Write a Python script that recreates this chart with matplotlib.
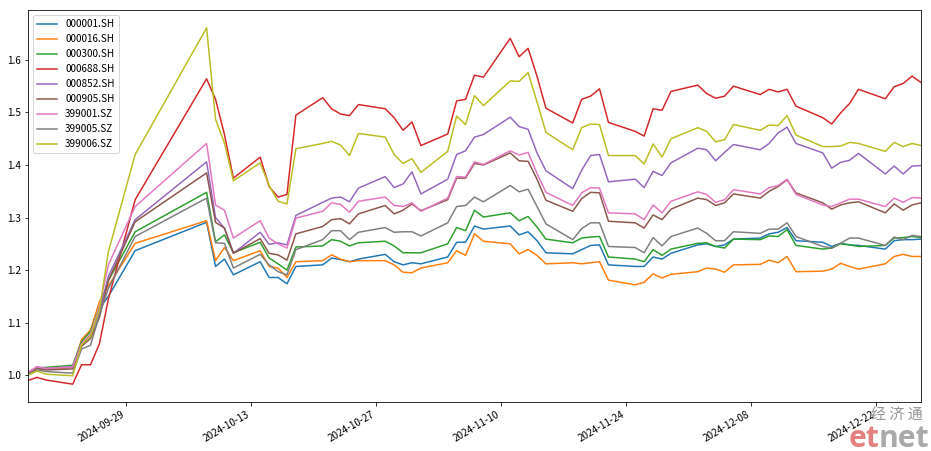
import numpy as np
import pandas as pd
import matplotlib
matplotlib.use('Agg')
import matplotlib.pyplot as plt
import matplotlib.dates as mdates

plt.rcParams['font.family'] = ['Noto Sans CJK SC', 'DejaVu Sans']
plt.rcParams['font.size'] = 10

dates = [
    '2024-09-18', '2024-09-19', '2024-09-20', '2024-09-23', '2024-09-24', '2024-09-25', '2024-09-26',
    '2024-09-27', '2024-09-30', '2024-10-08', '2024-10-09', '2024-10-10', '2024-10-11', '2024-10-14',
    '2024-10-15', '2024-10-16', '2024-10-17', '2024-10-18', '2024-10-21', '2024-10-22', '2024-10-23',
    '2024-10-24', '2024-10-25', '2024-10-28', '2024-10-29', '2024-10-30', '2024-10-31', '2024-11-01',
    '2024-11-04', '2024-11-05', '2024-11-06', '2024-11-07', '2024-11-08', '2024-11-11', '2024-11-12',
    '2024-11-13', '2024-11-14', '2024-11-15', '2024-11-18', '2024-11-19', '2024-11-20', '2024-11-21',
    '2024-11-22', '2024-11-25', '2024-11-26', '2024-11-27', '2024-11-28', '2024-11-29', '2024-12-02',
    '2024-12-03', '2024-12-04', '2024-12-05', '2024-12-06', '2024-12-09', '2024-12-10', '2024-12-11',
    '2024-12-12', '2024-12-13', '2024-12-16', '2024-12-17', '2024-12-18', '2024-12-19', '2024-12-20',
    '2024-12-23', '2024-12-24', '2024-12-25', '2024-12-26', '2024-12-27',
]

tick_dates = ['2024-09-29', '2024-10-13', '2024-10-27', '2024-11-10', '2024-11-24', '2024-12-08', '2024-12-22']

codes = ['000001.SH', '000016.SH', '000300.SH', '000688.SH', '000852.SH',
         '000905.SH', '399001.SZ', '399005.SZ', '399006.SZ']

sh000001 = [1.005, 1.013, 1.012, 1.015, 1.058, 1.075, 1.127, 1.150, 1.237, 1.291, 1.207, 1.221, 1.191, 1.216,
            1.186, 1.186, 1.174, 1.207, 1.210, 1.223, 1.220, 1.216, 1.221, 1.230, 1.216, 1.210, 1.214, 1.212,
            1.225, 1.253, 1.253, 1.284, 1.278, 1.284, 1.267, 1.273, 1.256, 1.233, 1.231, 1.239, 1.247, 1.248,
            1.210, 1.207, 1.207, 1.225, 1.221, 1.232, 1.248, 1.250, 1.245, 1.248, 1.259, 1.261, 1.269, 1.272,
            1.281, 1.256, 1.253, 1.245, 1.251, 1.248, 1.247, 1.240, 1.256, 1.258, 1.258, 1.259]
sh000016 = [1.005, 1.015, 1.012, 1.015, 1.068, 1.086, 1.140, 1.170, 1.251, 1.294, 1.218, 1.243, 1.218, 1.237,
            1.207, 1.204, 1.186, 1.216, 1.218, 1.229, 1.221, 1.216, 1.218, 1.218, 1.210, 1.196, 1.195, 1.204,
            1.214, 1.237, 1.228, 1.269, 1.255, 1.250, 1.231, 1.239, 1.228, 1.212, 1.214, 1.212, 1.214, 1.216,
            1.181, 1.172, 1.177, 1.193, 1.185, 1.192, 1.197, 1.204, 1.202, 1.196, 1.210, 1.211, 1.219, 1.214,
            1.226, 1.197, 1.198, 1.202, 1.213, 1.207, 1.202, 1.212, 1.226, 1.230, 1.226, 1.226]
sh000300 = [1.005, 1.014, 1.015, 1.019, 1.064, 1.083, 1.130, 1.180, 1.273, 1.348, 1.254, 1.267, 1.233, 1.253,
            1.223, 1.212, 1.200, 1.244, 1.246, 1.258, 1.255, 1.246, 1.252, 1.255, 1.246, 1.233, 1.233, 1.233,
            1.250, 1.281, 1.275, 1.314, 1.301, 1.309, 1.294, 1.302, 1.282, 1.259, 1.252, 1.261, 1.263, 1.264,
            1.225, 1.221, 1.216, 1.239, 1.228, 1.240, 1.251, 1.252, 1.245, 1.242, 1.259, 1.258, 1.265, 1.264,
            1.277, 1.247, 1.240, 1.242, 1.250, 1.248, 1.245, 1.247, 1.261, 1.262, 1.264, 1.262]
sh000688 = [0.990, 0.996, 0.991, 0.983, 1.020, 1.020, 1.060, 1.145, 1.334, 1.564, 1.525, 1.458, 1.375, 1.415,
            1.359, 1.339, 1.344, 1.495, 1.528, 1.507, 1.497, 1.494, 1.515, 1.507, 1.490, 1.466, 1.482, 1.437,
            1.459, 1.522, 1.525, 1.571, 1.567, 1.641, 1.606, 1.622, 1.569, 1.508, 1.480, 1.525, 1.531, 1.545,
            1.481, 1.464, 1.455, 1.507, 1.504, 1.540, 1.552, 1.536, 1.527, 1.531, 1.550, 1.534, 1.544, 1.539,
            1.544, 1.512, 1.490, 1.478, 1.499, 1.517, 1.544, 1.526, 1.549, 1.555, 1.569, 1.557]
sh000852 = [1.005, 1.016, 1.013, 1.016, 1.060, 1.075, 1.120, 1.188, 1.296, 1.406, 1.300, 1.280, 1.232, 1.272,
            1.249, 1.252, 1.248, 1.304, 1.329, 1.337, 1.339, 1.330, 1.356, 1.378, 1.357, 1.364, 1.387, 1.345,
            1.373, 1.420, 1.427, 1.453, 1.458, 1.491, 1.473, 1.468, 1.423, 1.389, 1.355, 1.390, 1.418, 1.420,
            1.368, 1.373, 1.357, 1.388, 1.380, 1.404, 1.432, 1.429, 1.408, 1.424, 1.439, 1.429, 1.441, 1.461,
            1.472, 1.441, 1.423, 1.394, 1.405, 1.409, 1.422, 1.383, 1.398, 1.383, 1.398, 1.399]
sh000905 = [1.003, 1.013, 1.010, 1.012, 1.055, 1.070, 1.110, 1.180, 1.292, 1.385, 1.291, 1.280, 1.232, 1.260,
            1.232, 1.229, 1.219, 1.269, 1.283, 1.296, 1.298, 1.288, 1.307, 1.323, 1.307, 1.314, 1.326, 1.313,
            1.334, 1.375, 1.375, 1.403, 1.400, 1.423, 1.408, 1.407, 1.373, 1.333, 1.312, 1.336, 1.348, 1.347,
            1.293, 1.290, 1.280, 1.305, 1.296, 1.316, 1.337, 1.334, 1.323, 1.328, 1.345, 1.337, 1.350, 1.359,
            1.372, 1.347, 1.328, 1.316, 1.324, 1.328, 1.330, 1.309, 1.326, 1.314, 1.324, 1.328]
sz399001 = [1.005, 1.016, 1.013, 1.016, 1.060, 1.078, 1.130, 1.210, 1.321, 1.441, 1.324, 1.314, 1.261, 1.294,
            1.261, 1.250, 1.242, 1.299, 1.312, 1.328, 1.325, 1.310, 1.331, 1.339, 1.323, 1.321, 1.328, 1.312,
            1.337, 1.378, 1.377, 1.406, 1.401, 1.427, 1.419, 1.424, 1.384, 1.348, 1.323, 1.347, 1.357, 1.356,
            1.309, 1.307, 1.296, 1.324, 1.309, 1.331, 1.349, 1.344, 1.329, 1.334, 1.353, 1.345, 1.357, 1.361,
            1.373, 1.344, 1.324, 1.321, 1.328, 1.335, 1.335, 1.321, 1.337, 1.329, 1.338, 1.337]
sz399005 = [1.002, 1.010, 1.007, 1.004, 1.050, 1.057, 1.115, 1.165, 1.264, 1.337, 1.252, 1.251, 1.204, 1.230,
            1.210, 1.197, 1.191, 1.239, 1.258, 1.275, 1.275, 1.258, 1.272, 1.281, 1.272, 1.273, 1.273, 1.265,
            1.290, 1.321, 1.323, 1.339, 1.330, 1.361, 1.349, 1.354, 1.321, 1.288, 1.258, 1.279, 1.290, 1.290,
            1.245, 1.243, 1.233, 1.262, 1.246, 1.264, 1.280, 1.270, 1.256, 1.256, 1.273, 1.270, 1.278, 1.278,
            1.290, 1.264, 1.245, 1.242, 1.251, 1.261, 1.261, 1.247, 1.263, 1.258, 1.266, 1.264]
sz399006 = [1.000, 1.008, 1.002, 0.999, 1.058, 1.074, 1.125, 1.235, 1.420, 1.661, 1.487, 1.442, 1.370, 1.404,
            1.361, 1.331, 1.326, 1.431, 1.441, 1.445, 1.438, 1.418, 1.460, 1.453, 1.420, 1.403, 1.412, 1.386,
            1.426, 1.493, 1.477, 1.532, 1.513, 1.560, 1.559, 1.576, 1.520, 1.462, 1.429, 1.471, 1.478, 1.477,
            1.418, 1.418, 1.402, 1.440, 1.415, 1.450, 1.471, 1.464, 1.444, 1.448, 1.477, 1.466, 1.476, 1.475,
            1.494, 1.457, 1.435, 1.435, 1.436, 1.443, 1.441, 1.426, 1.443, 1.435, 1.441, 1.437]

series = [sh000001, sh000016, sh000300, sh000688, sh000852, sh000905, sz399001, sz399005, sz399006]

x = pd.to_datetime(dates)

fig = plt.figure(figsize=(931 / 72, 451 / 72), dpi=72)
ax = fig.add_axes([28 / 931, 1 - 402 / 451, (921 - 28) / 931, (402 - 10) / 451])

for code, values in zip(codes, series):
    ax.plot(x, values, label=code, lw=1.5)

ax.set_xlim(x[0], x[-1])
ax.set_xticks(pd.to_datetime(tick_dates))
ax.xaxis.set_major_formatter(mdates.DateFormatter('%Y-%m-%d'))
for lbl in ax.get_xticklabels():
    lbl.set_rotation(30)
    lbl.set_ha('right')
ax.legend(loc='upper left')

# etnet watermark (bottom right corner)
fig.text(923 / 931, 1 - 420 / 451, '经 济 通', color='#8a8a8a', fontsize=15,
         ha='right', va='baseline', alpha=0.9)
fig.text(879 / 931, 1 - 447 / 451, 'et', color='#e06a6a', fontsize=30, fontweight='bold',
         family='Open Sans', ha='right', va='baseline', alpha=0.85)
fig.text(879 / 931, 1 - 447 / 451, 'net', color='#9a9a9a', fontsize=30, fontweight='bold',
         family='Open Sans', ha='left', va='baseline', alpha=0.85)

fig.savefig('out.png', dpi=72)
